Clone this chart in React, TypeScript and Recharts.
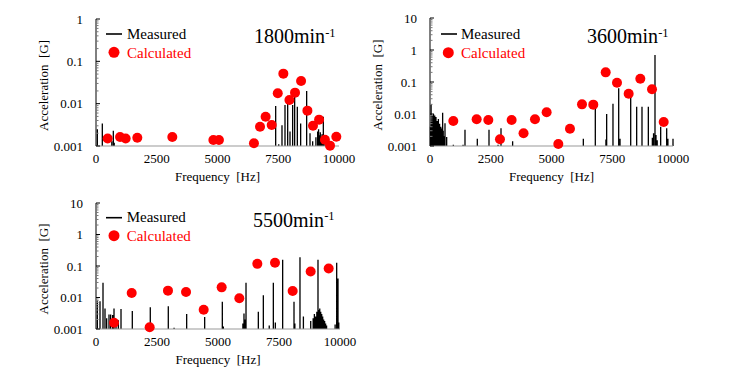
import React from "react";
import { ComposedChart, Line, Scatter, XAxis, YAxis } from "recharts";

const FONT = "'Liberation Serif', 'Times New Roman', 'DejaVu Serif Condensed', 'DejaVu Serif', serif";

const xTicks = [0, 2500, 5000, 7500, 10000];
const yMajorA = [0.001, 0.01, 0.1, 1];
const yMajorB = [0.001, 0.01, 0.1, 1, 10];
const minorMul = [2, 3, 4, 5, 6, 7, 8, 9];

const legendLabels = ["Measured", "Calculated"];
const speedLabels = ["1800", "3600", "5500"];

// [frequency Hz, acceleration G]
const meas1800 = [
  [55, 0.0025], [260, 0.0034], [650, 0.0013], [713, 0.0023], [750, 0.0012],
  [7394, 0.0088], [7520, 0.0011], [7654, 0.0031], [7778, 0.0093], [7888, 0.0122],
  [7984, 0.0022], [8093, 0.0093], [8175, 0.0176], [8285, 0.0085], [8422, 0.0034],
  [8669, 0.0199], [8807, 0.002], [8916, 0.0013], [9050, 0.0016], [9122, 0.0022],
  [9160, 0.0025], [9190, 0.0018], [9230, 0.0021], [9259, 0.0016], [9300, 0.0019],
  [9355, 0.0049], [9420, 0.0014], [9520, 0.0014], [9600, 0.0012],
];
const calc1800 = [
  [480, 0.0015], [990, 0.00163], [1220, 0.0015], [1700, 0.00157], [3140, 0.00163],
  [4830, 0.00139], [5060, 0.00139], [6500, 0.00116], [6750, 0.00286], [6980, 0.00493],
  [7230, 0.00314], [7480, 0.0176], [7710, 0.0512], [7960, 0.0122], [8190, 0.0182],
  [8440, 0.0344], [8700, 0.00684], [8930, 0.00302], [9180, 0.00419], [9420, 0.0014],
  [9630, 0.00102], [9890, 0.00166],
];

const meas3600 = [
  [20, 0.004], [45, 0.02], [70, 0.006], [95, 0.009], [120, 0.005], [145, 0.01],
  [170, 0.007], [195, 0.009], [220, 0.004], [245, 0.008], [270, 0.005], [295, 0.006],
  [320, 0.003], [345, 0.007], [370, 0.004], [395, 0.005], [420, 0.0025], [445, 0.004],
  [470, 0.003], [495, 0.0035], [520, 0.011], [545, 0.003], [570, 0.002], [617, 0.0051],
  [686, 0.0019], [960, 0.0011], [1360, 0.0011], [1440, 0.0032], [1947, 0.0017],
  [2428, 0.0032], [2800, 0.0011], [2922, 0.0036], [3400, 0.0014], [6310, 0.0017],
  [6803, 0.0169], [7240, 0.0016], [7270, 0.01], [7530, 0.021], [7765, 0.0634],
  [7820, 0.0017], [8259, 0.0393], [8505, 0.0169], [8724, 0.0169], [8985, 0.0169],
  [9150, 0.0018], [9200, 0.0025], [9259, 0.698], [9300, 0.0022], [9350, 0.0015],
  [9493, 0.004], [9740, 0.0036], [9790, 0.0017], [10000, 0.0017],
];
const calc3600 = [
  [959, 0.00604], [1920, 0.00681], [2400, 0.00646], [2880, 0.00162], [3360, 0.00646],
  [3850, 0.00249], [4320, 0.00681], [4800, 0.0113], [5280, 0.00116], [5760, 0.00348],
  [6255, 0.02], [6720, 0.0196], [7230, 0.2], [7695, 0.095], [8175, 0.0431],
  [8655, 0.127], [9136, 0.059], [9617, 0.00562],
];

const meas5500 = [
  [55, 0.0076], [164, 0.0076], [287, 0.0296], [369, 0.0045], [437, 0.0022],
  [533, 0.0029], [601, 0.0029], [683, 0.0028], [738, 0.0045], [820, 0.0019],
  [915, 0.0019], [1025, 0.0043], [1488, 0.0037], [2225, 0.0049], [2963, 0.0053],
  [3200, 0.0011], [3716, 0.003], [4454, 0.0024], [5177, 0.0073], [5220, 0.0012],
  [6020, 0.0015], [6065, 0.0031], [6110, 0.002], [6148, 0.0296], [6653, 0.0035],
  [6858, 0.0118], [7100, 0.0013], [7268, 0.0296], [7350, 0.0016], [7650, 0.157],
  [8115, 0.0073], [8150, 0.0015], [8360, 0.19], [8500, 0.0025], [8800, 0.0018],
  [8900, 0.0022], [8950, 0.003], [9000, 0.0025], [9050, 0.0035], [9098, 0.157],
  [9130, 0.004], [9170, 0.0045], [9210, 0.0035], [9250, 0.003], [9290, 0.0025],
  [9330, 0.002], [9370, 0.0018], [9410, 0.0015], [9450, 0.0013], [9800, 0.0014],
  [9864, 0.126], [9918, 0.04], [9950, 0.0016],
];
const calc5500 = [
  [738, 0.00158], [1463, 0.0139], [2200, 0.00113], [2950, 0.0165], [3690, 0.015],
  [4413, 0.00406], [5150, 0.021], [5874, 0.00946], [6612, 0.117], [7336, 0.126],
  [8060, 0.0161], [8798, 0.0671], [9536, 0.0834],
];

// spikes drawn as vertical segments from the axis floor, broken by nulls
const spikeRows = (pts: number[][], floor: number) =>
  pts.flatMap(([f, a]) => [{ f, a: floor }, { f, a }, { f, a: null }]);
const pointRows = (pts: number[][]) => pts.map(([f, a]) => ({ f, a }));

function LogTick(props: any) {
  const { x, y, payload, majors } = props;
  const v = payload.value;
  const major = majors.some((m: number) => Math.abs(m - v) / m < 1e-6);
  const ax = x + 13;
  return (
    <g>
      <line x1={ax} x2={ax + (major ? 4 : 2.5)} y1={y} y2={y} stroke={major ? "#000" : "#777"} strokeWidth={1} />
      {major && (
        <text x={x} y={y} textAnchor="end" dominantBaseline="central" fontSize={13} fill="#000" fontFamily={FONT}>
          {String(v)}
        </text>
      )}
    </g>
  );
}

function Panel({ left, top, w, h, mTop, mRight, yw, xh, majors, meas, calc }: any) {
  const ticks = majors
    .slice(0, -1)
    .flatMap((m: number) => [m, ...minorMul.map((k) => m * k)])
    .concat(majors[majors.length - 1]);
  return (
    <div style={{ position: "absolute", left, top }}>
      <ComposedChart width={w} height={h} margin={{ top: mTop, right: mRight, bottom: 0, left: 0 }}>
        <XAxis
          dataKey="f"
          type="number"
          domain={[0, 10000]}
          ticks={xTicks}
          interval={0}
          tickSize={0}
          tickMargin={8}
          tickLine={false}
          height={xh}
          axisLine={{ stroke: "#999" }}
          tick={{ fill: "#000", fontSize: 13, fontFamily: FONT }}
          label={(p: any) => {
            const vb = p.viewBox;
            return (
              <text x={vb.x + vb.width / 2} y={vb.y + 30} textAnchor="middle" dominantBaseline="central" fontSize={13} fill="#000" fontFamily={FONT}>
                {"Frequency\u2002[Hz]"}
              </text>
            );
          }}
        />
        <XAxis xAxisId="top" orientation="top" type="number" domain={[0, 1]} height={0} tick={false} tickLine={false} axisLine={{ stroke: "#222" }} />
        <YAxis
          dataKey="a"
          type="number"
          scale="log"
          domain={[majors[0], majors[majors.length - 1]]}
          ticks={ticks}
          interval={0}
          tickSize={0}
          tickMargin={13}
          tickLine={false}
          width={yw}
          axisLine={{ stroke: "#000" }}
          tick={(p: any) => <LogTick {...p} majors={majors} />}
          label={(p: any) => {
            const vb = p.viewBox;
            const cx = vb.x + vb.width - 53;
            const cy = vb.y + vb.height / 2 + 3;
            return (
              <text x={cx} y={cy} transform={`rotate(-90 ${cx} ${cy})`} textAnchor="middle" dominantBaseline="central" fontSize={13} fill="#000" fontFamily={FONT}>
                {"Acceleration\u2002[G]"}
              </text>
            );
          }}
        />
        <YAxis yAxisId="right" orientation="right" type="number" domain={[0, 1]} width={0} tick={false} tickLine={false} axisLine={{ stroke: "#aaa" }} />
        <Line
          data={spikeRows(meas, majors[0])}
          dataKey="a"
          type="linear"
          stroke="#000"
          strokeWidth={1.3}
          dot={false}
          activeDot={false}
          connectNulls={false}
          isAnimationActive={false}
        />
        <Scatter
          data={pointRows(calc)}
          dataKey="a"
          fill="#ff0000"
          isAnimationActive={false}
          shape={(p: any) => <circle cx={p.cx} cy={p.cy} r={5} fill="#ff0000" />}
        />
      </ComposedChart>
    </div>
  );
}

function Overlay() {
  const items = [
    { lx: 106, ly: 34, tx: 127, b1: 39.3, dx: 114, dy: 52.3, b2: 57.5, sx: 254, sb: 43.3 },
    { lx: 441, ly: 34, tx: 461, b1: 39.3, dx: 448.3, dy: 52.7, b2: 57.5, sx: 587, sb: 43.3 },
    { lx: 106, ly: 217.7, tx: 126.7, b1: 222.3, dx: 114, dy: 235.7, b2: 240.7, sx: 253, sb: 226.7 },
  ];
  return (
    <svg width={730} height={380} style={{ position: "absolute", left: 0, top: 0, pointerEvents: "none" }}>
      {items.map((it, i) => (
        <g key={i} fontFamily={FONT}>
          <line x1={it.lx} x2={it.lx + 16} y1={it.ly} y2={it.ly} stroke="#000" strokeWidth={1.6} />
          <text x={it.tx} y={it.b1} fontSize={15} fill="#000">{legendLabels[0]}</text>
          <circle cx={it.dx} cy={it.dy} r={5.5} fill="#ff0000" />
          <text x={it.tx} y={it.b2} fontSize={15} fill="#ff0000">{legendLabels[1]}</text>
          <text x={it.sx} y={it.sb} fontSize={20} fill="#000">
            {speedLabels[i]}min
            <tspan fontSize={12.5} dy={-6.5}>-1</tspan>
          </text>
        </g>
      ))}
    </svg>
  );
}

export default function App() {
  return (
    <div style={{ position: "absolute", left: 0, top: 0, width: 730, height: 380, background: "#fff", fontFamily: FONT }}>
      <Panel left={0} top={0} w={362} h={190} mTop={19} mRight={23} yw={96} xh={44} majors={yMajorA} meas={meas1800} calc={calc1800} />
      <Panel left={340} top={0} w={365} h={190} mTop={18} mRight={32} yw={90} xh={44} majors={yMajorB} meas={meas3600} calc={calc3600} />
      <Panel left={0} top={184} w={362} h={190} mTop={19} mRight={22} yw={96} xh={45} majors={yMajorB} meas={meas5500} calc={calc5500} />
      <Overlay />
    </div>
  );
}
